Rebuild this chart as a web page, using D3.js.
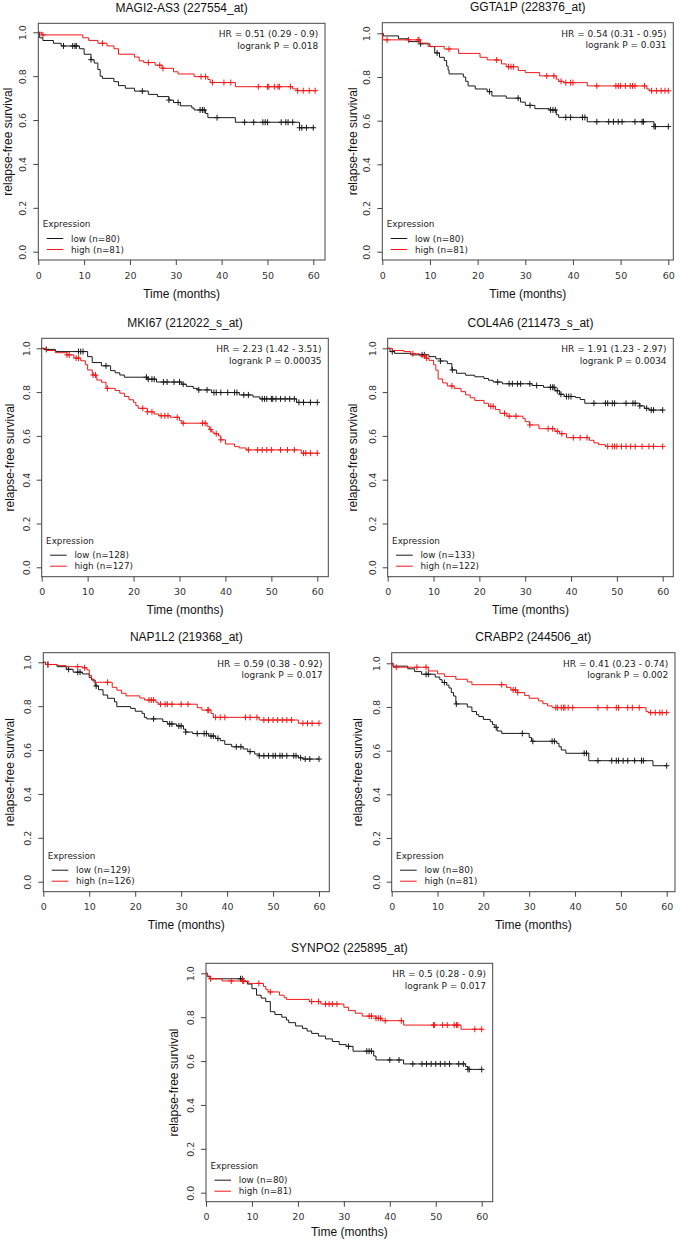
<!DOCTYPE html>
<html><head><meta charset="utf-8">
<script src="https://cdn.jsdelivr.net/npm/d3@7"></script>
<style>body{margin:0;background:#fff}svg{display:block}</style>
</head><body>
<svg id="c" width="681" height="1240"></svg>
<script>
// ---------- data ----------
const titles = ["MAGI2-AS3 (227554_at)","GGTA1P (228376_at)","MKI67 (212022_s_at)","COL4A6 (211473_s_at)","NAP1L2 (219368_at)","CRABP2 (244506_at)","SYNPO2 (225895_at)"];
const hrLabels = ["HR = 0.51 (0.29 - 0.9)","HR = 0.54 (0.31 - 0.95)","HR = 2.23 (1.42 - 3.51)","HR = 1.91 (1.23 - 2.97)","HR = 0.59 (0.38 - 0.92)","HR = 0.41 (0.23 - 0.74)","HR = 0.5 (0.28 - 0.9)"];
const pLabels = ["logrank P = 0.018","logrank P = 0.031","logrank P = 0.00035","logrank P = 0.0034","logrank P = 0.017","logrank P = 0.002","logrank P = 0.017"];
const nLow = [80,80,128,133,129,80,80];
const nHigh = [81,81,127,122,126,81,81];
const xTicks = [0,10,20,30,40,50,60];
const yTicks = [0,0.2,0.4,0.6,0.8,1.0];

// step curves: [time, survival after event]; censor times
const p1LowSteps = [[0.3,0.975],[1,0.9625],[3.3,0.95],[5,0.9375],[9,0.925],[10,0.9],[11.5,0.875],[12.2,0.86],[13,0.83],[13.5,0.8],[14,0.79],[16.5,0.775],[17.5,0.757],[19,0.745],[21,0.732],[24,0.717],[26,0.707],[28.5,0.691],[29.5,0.68],[31,0.665],[33.5,0.655],[34,0.646],[36.5,0.63],[37,0.611],[43,0.59],[57,0.565]];
const p1LowCens = [5.5,7.5,8,8.3,11.5,22.7,28.5,30.5,35.3,35.8,36.2,39,45,47,49,49.5,50,53,54,54.5,55.5,57,57.5,58.5,60];
const p1HighSteps = [[0.7,0.988],[9.7,0.975],[11,0.963],[13,0.95],[15,0.938],[16.5,0.925],[17.5,0.9],[21,0.887],[22,0.87],[23,0.862],[25.5,0.85],[27,0.836],[29.5,0.82],[30.5,0.81],[34,0.798],[37,0.785],[37.5,0.771],[43,0.752],[55.5,0.742],[56.5,0.734]];
const p1HighCens = [1,14,24,26.5,27.2,35.5,36.5,38,40.5,42,48,50,50.3,51.5,52.3,52.6,55,56.6,57.8,59.1,60.4];

const p2LowSteps = [[0.2,0.988],[3.4,0.975],[5.5,0.962],[8,0.952],[10,0.939],[11,0.91],[12,0.89],[13,0.875],[13.5,0.85],[13.8,0.832],[14,0.814],[17,0.8],[17.5,0.78],[18,0.759],[19.5,0.745],[22,0.733],[23,0.713],[26,0.703],[29,0.685],[30,0.67],[32,0.655],[35,0.649],[36.5,0.627],[37,0.615],[43,0.595],[57,0.573]];
const p2LowCens = [8,11.5,22.5,28.5,31,35.3,35.8,36.3,38.5,39.5,42,42.5,45,47.5,48.5,49.5,50.3,53,54.5,54.8,57,57.3,60];
const p2HighSteps = [[0.1,0.97],[8,0.955],[9.6,0.94],[13,0.928],[16,0.908],[20.5,0.89],[22,0.878],[25,0.86],[26,0.847],[28.5,0.83],[30,0.82],[33,0.805],[36.5,0.79],[37,0.78],[38,0.774],[43,0.759],[55.5,0.745],[56,0.737]];
const p2HighCens = [1,5.5,7.5,7.7,14,24,26.5,27,27.5,34.5,36,37.5,38.5,39.5,40,45,49,49.5,50,51,52,52.5,53,55,56.5,57.5,58.5,59.3,60];

const p3LowSteps = [[0.5,0.995],[3,0.985],[10,0.962],[11,0.935],[13,0.92],[15,0.898],[16,0.888],[17,0.878],[18,0.868],[23,0.859],[25,0.846],[30.5,0.836],[31.5,0.826],[33,0.817],[34,0.81],[37,0.798],[43,0.787],[46,0.778],[47.5,0.769],[55.5,0.753]];
const p3LowCens = [1,8,8.5,9,14,22.8,23.2,24,24.5,26.5,27.3,28.8,30,30.8,34.2,36,37.5,38,39,40.5,42,42.5,44,45,48,48.5,49,50,50.3,51,52,53,54,55,56,57,58.5,60];
const p3HighSteps = [[1,0.99],[3,0.98],[5.5,0.97],[7,0.955],[8.5,0.943],[9.5,0.925],[10,0.901],[11,0.878],[12,0.855],[13,0.845],[14,0.817],[16,0.807],[17,0.795],[18,0.78],[19,0.765],[20,0.753],[20.5,0.738],[21,0.726],[23,0.71],[24.5,0.7],[25.5,0.692],[28,0.685],[30,0.67],[30.5,0.658],[36,0.644],[36.5,0.629],[37,0.618],[37.5,0.61],[38.5,0.6],[39,0.582],[40,0.563],[42,0.551],[43,0.545],[44.5,0.536],[56.5,0.521]];
const p3HighCens = [5.5,6,7.5,8,11.2,11.7,14.3,22,23,24,26,26.8,27.5,29.5,30.8,35,35.6,36.8,38,39,45,47,48,49,50,52,53.5,55,57,57.5,58.5,60];

const p4LowSteps = [[0.5,0.985],[1.5,0.977],[5,0.97],[9,0.962],[10.5,0.952],[11.5,0.942],[13,0.93],[14,0.901],[15,0.886],[17,0.877],[19,0.87],[21,0.862],[22,0.854],[23,0.846],[25,0.838],[31.5,0.83],[34,0.822],[36.5,0.806],[37.5,0.79],[38.5,0.78],[41,0.775],[42,0.766],[43,0.749],[55,0.737],[56,0.726],[57,0.718]];
const p4LowCens = [1,7.5,8,11.5,14.1,24,26.5,27.2,28.3,29,31,32.5,35.5,36,36.3,37,37.8,39,39.5,40,45,47.5,48,49,49.5,52,53.5,54,55,56.5,57.5,58,60];
const p4HighSteps = [[1,0.99],[3.5,0.985],[5,0.975],[7,0.965],[8.3,0.955],[9,0.945],[10,0.925],[10.5,0.9],[11,0.86],[12,0.842],[13,0.828],[14.5,0.817],[16,0.802],[17,0.787],[18,0.774],[19,0.762],[21,0.749],[22,0.735],[23.5,0.72],[24.5,0.703],[26,0.69],[29.5,0.68],[30,0.665],[31,0.65],[33,0.633],[36.5,0.621],[37.5,0.61],[39,0.592],[44,0.58],[45,0.568],[46,0.56],[47.5,0.552]];
const p4HighCens = [5.5,8,8.5,14,22.5,23,25.5,26.5,28,31,35,36,37,38,40.5,42,43.5,48,49,49.5,50,51,52,53,54,55.5,57,58,60];

const p5LowSteps = [[0.5,0.99],[3,0.98],[5,0.968],[6.5,0.955],[8.5,0.947],[10,0.93],[10.5,0.919],[11.3,0.892],[12,0.875],[13,0.851],[14,0.836],[15.5,0.82],[16,0.798],[19,0.79],[20,0.777],[21.5,0.767],[22,0.749],[22.5,0.742],[26,0.73],[27,0.719],[29,0.71],[30.5,0.695],[31,0.682],[32.5,0.675],[36,0.664],[37.5,0.653],[38.5,0.643],[39.5,0.626],[41,0.615],[43.5,0.605],[44.5,0.593],[46,0.582],[47,0.574],[55.5,0.565],[56.5,0.559]];
const p5LowCens = [1,5.5,7.5,8,11.5,24,27.5,28,29.5,30,31,33.5,35,35.5,36.5,37,38,42,43,45,47,48,49,50,50.5,51.5,52,53,54.5,55,56,57,58,60];
const p5HighSteps = [[0.5,0.99],[3,0.985],[5,0.98],[8.5,0.975],[9.5,0.965],[10,0.94],[10.5,0.924],[11,0.909],[15,0.886],[16,0.873],[17,0.859],[18,0.847],[21,0.837],[22,0.828],[24.5,0.818],[25,0.809],[33.5,0.793],[34.5,0.782],[36.5,0.767],[37,0.749],[47,0.737],[55.5,0.722]];
const p5HighCens = [1,7.5,9,14,23,23.5,24,25.5,26.5,27,28,30,31.5,35.8,36,37.5,38.5,39.5,44,45,46.5,48,49,50,51,52,53,54,56.5,57.5,58.5,60];

const p6LowSteps = [[0.3,0.987],[3.5,0.975],[5,0.962],[6.5,0.95],[9.5,0.937],[10.5,0.925],[11,0.912],[12,0.9],[12.5,0.887],[13,0.866],[13.5,0.85],[14,0.814],[16.5,0.8],[17.5,0.779],[18.5,0.765],[19,0.756],[20,0.743],[21.5,0.733],[22,0.72],[22.5,0.707],[23,0.69],[24,0.679],[30,0.66],[30.5,0.643],[36,0.634],[36.5,0.618],[37,0.603],[38,0.588],[43,0.554],[57,0.531]];
const p6LowCens = [7.5,8,11.5,14.1,22.8,28.5,30.8,35,35.5,42,42.5,45,48,49,49.5,50.5,51.5,53,54.5,54.9,60];
const p6HighSteps = [[0.3,0.982],[8,0.965],[10,0.952],[11.5,0.94],[14,0.927],[16.5,0.915],[17.5,0.902],[25,0.89],[26,0.878],[27.5,0.866],[29,0.853],[30,0.84],[32,0.828],[33,0.815],[34,0.805],[35,0.797],[55.5,0.779],[56,0.774]];
const p6HighCens = [1,5.5,7.5,24,26.5,27,27.5,35.8,36.2,37,37.5,37.8,38.5,39.5,45,47,49,49.5,51.5,52.5,54,56.5,57.5,58.5,59,60];

const p7LowSteps = [[0.3,0.985],[1,0.975],[8,0.962],[9,0.951],[10,0.93],[11,0.9],[12,0.887],[13,0.871],[14,0.825],[15,0.812],[16.5,0.8],[17.5,0.787],[18,0.775],[19.5,0.76],[21,0.749],[22,0.737],[23,0.726],[24.5,0.714],[26,0.701],[27.5,0.689],[29,0.675],[30.5,0.667],[32,0.645],[36.5,0.623],[37,0.605],[43,0.587],[56.5,0.575],[57,0.562]];
const p7LowCens = [7.5,7.9,31,35,35.5,36,40,42,45,47,48,49,50,51,52,53,55,56,57,57.3,60];
const p7HighSteps = [[0.3,0.988],[0.8,0.975],[3.5,0.965],[9.2,0.954],[12.5,0.94],[13,0.927],[13.5,0.915],[16,0.9],[17,0.889],[17.5,0.881],[22.5,0.871],[25,0.86],[30,0.845],[31,0.83],[32.5,0.818],[34,0.805],[37,0.795],[38.3,0.784],[43,0.764],[55.5,0.745]];
const p7HighCens = [1,5.5,8,8.2,11.5,14,23,24.5,26,26.8,27.5,28.5,35.5,36,37,37.5,38,39,42.5,49.5,49.7,51.5,52.5,54,54.5,54.8,58.5,60];

const lowSteps = [p1LowSteps,p2LowSteps,p3LowSteps,p4LowSteps,p5LowSteps,p6LowSteps,p7LowSteps];
const lowCens = [p1LowCens,p2LowCens,p3LowCens,p4LowCens,p5LowCens,p6LowCens,p7LowCens];
const highSteps = [p1HighSteps,p2HighSteps,p3HighSteps,p4HighSteps,p5HighSteps,p6HighSteps,p7HighSteps];
const highCens = [p1HighCens,p2HighCens,p3HighCens,p4HighCens,p5HighCens,p6HighCens,p7HighCens];

// ---------- layout ----------
const layout = [
  {x0:38.3, x60:313.3, R:325,   y1:32.3,  y0:251.7,  T:23.3,  B:260,    ylabX:8,   tlab:34},
  {x0:382.3,x60:668.3, R:673.3, y1:33.3,  y0:251.7,  T:22.7,  B:260,    ylabX:353, tlab:34},
  {x0:41.7, x60:317.3, R:328.3, y1:348.3, y0:567.3,  T:338.3, B:576.7,  ylabX:10,  tlab:33},
  {x0:387.7,x60:662.7, R:673.3, y1:348.3, y0:567.3,  T:338.3, B:576.7,  ylabX:353, tlab:33},
  {x0:43.3, x60:319,   R:329.3, y1:662.3, y0:881.7,  T:652.7, B:891.7,  ylabX:10,  tlab:33},
  {x0:391.7,x60:666.7, R:675,   y1:663.3, y0:881.7,  T:652.7, B:891.7,  ylabX:358, tlab:33},
  {x0:206,  x60:481.7, R:492.7, y1:973.3, y0:1192.7, T:963.3, B:1201.7, ylabX:174, tlab:30.5}
];
const LOW_COL = "#1a1a1a", HIGH_COL = "#f01818", AXIS_COL = "#444";
const SANS = "'Liberation Sans', Arial, sans-serif";
const DJ = "'DejaVu Sans', sans-serif";

const svg = d3.select("#c");

function survAt(steps, t){ let s = 1; for (const [tt,ss] of steps){ if (tt <= t) s = ss; else break; } return s; }

layout.forEach((L, i) => {
  const x = d3.scaleLinear().domain([0,60]).range([L.x0, L.x60]);
  const y = d3.scaleLinear().domain([0,1]).range([L.y0, L.y1]);
  const g = svg.append("g");
  const left = L.x0, cx = (L.x0 + L.R)/2, cy = (L.T + L.B)/2;

  // title
  g.append("text").attr("x", cx).attr("y", L.T - 15.5).attr("text-anchor","middle")
    .attr("dominant-baseline","central").attr("font-family",SANS).attr("font-size",12).attr("fill","#111")
    .text(titles[i]);

  // x axis
  const xa = g.append("g").attr("transform",`translate(0,${L.B})`)
    .call(d3.axisBottom(x).tickValues(xTicks).tickSize(5).tickSizeOuter(0).tickFormat(d3.format("d")));
  xa.select(".domain").remove();
  xa.selectAll("line").attr("stroke",AXIS_COL);
  xa.selectAll("text").attr("y",15).attr("dy",null).attr("dominant-baseline","central")
    .attr("font-family",DJ).attr("font-size",9.5).attr("fill","#333");

  // y axis
  const ya = g.append("g").attr("transform",`translate(${left},0)`)
    .call(d3.axisLeft(y).tickValues(yTicks).tickSize(5).tickSizeOuter(0).tickFormat(d3.format(".1f")));
  ya.select(".domain").remove();
  ya.selectAll("line").attr("stroke",AXIS_COL);
  ya.selectAll("text").attr("x",null).attr("dy",null)
    .attr("transform","translate(-15.6,0) rotate(-90)").attr("text-anchor","middle")
    .attr("dominant-baseline","central").attr("font-family",DJ).attr("font-size",9.5).attr("fill","#333");

  // box
  g.append("rect").attr("x",left).attr("y",L.T).attr("width",L.R-left).attr("height",L.B-L.T)
    .attr("fill","none").attr("stroke",AXIS_COL).attr("stroke-width",1);

  // axis labels
  g.append("text").attr("x",cx).attr("y",L.B + L.tlab).attr("text-anchor","middle").attr("dominant-baseline","central")
    .attr("font-family",SANS).attr("font-size",12).attr("fill","#111").text("Time (months)");
  g.append("text").attr("transform",`translate(${L.ylabX},${cy}) rotate(-90)`).attr("text-anchor","middle")
    .attr("dominant-baseline","central").attr("font-family",SANS).attr("font-size",12).attr("fill","#111")
    .text("relapse-free survival");

  // HR text
  g.append("text").attr("x",L.R-6.7).attr("y",L.T+11).attr("text-anchor","end").attr("dominant-baseline","central")
    .attr("font-family",DJ).attr("font-size",9).attr("fill","#222").text(hrLabels[i]);
  g.append("text").attr("x",L.R-6.7).attr("y",L.T+22.4).attr("text-anchor","end").attr("dominant-baseline","central")
    .attr("font-family",DJ).attr("font-size",9).attr("fill","#222").text(pLabels[i]);

  // legend
  g.append("text").attr("x",left+4.4).attr("y",L.B-36).attr("dominant-baseline","central")
    .attr("font-family",DJ).attr("font-size",8.8).attr("fill","#222").text("Expression");
  [["low",nLow[i],LOW_COL,L.B-21.5],["high",nHigh[i],HIGH_COL,L.B-10.5]].forEach(([lab,n,col,yy])=>{
    g.append("line").attr("x1",left+8.4).attr("x2",left+25).attr("y1",yy).attr("y2",yy).attr("stroke",col).attr("stroke-width",1);
    g.append("text").attr("x",left+32.7).attr("y",yy).attr("dominant-baseline","central")
      .attr("font-family",DJ).attr("font-size",8.8).attr("fill","#222").text(`${lab} (n=${n})`);
  });

  // curves
  const line = d3.line().x(d=>x(d[0])).y(d=>y(d[1])).curve(d3.curveStepAfter);
  [[lowSteps[i],lowCens[i],LOW_COL],[highSteps[i],highCens[i],HIGH_COL]].forEach(([steps,cens,col])=>{
    const tEnd = Math.max(60, d3.max(cens));
    const pts = [[0,1], ...steps, [tEnd, steps[steps.length-1][1]]];
    g.append("path").attr("d",line(pts)).attr("fill","none").attr("stroke",col).attr("stroke-width",1);
    const m = g.append("g").attr("stroke",col).attr("stroke-width",1);
    cens.forEach(t=>{
      const px = x(t), py = y(survAt(steps,t));
      m.append("line").attr("x1",px).attr("x2",px).attr("y1",py-3).attr("y2",py+3);
      m.append("line").attr("x1",px-2.8).attr("x2",px+2.8).attr("y1",py).attr("y2",py);
    });
  });
});
</script>
</body></html>
